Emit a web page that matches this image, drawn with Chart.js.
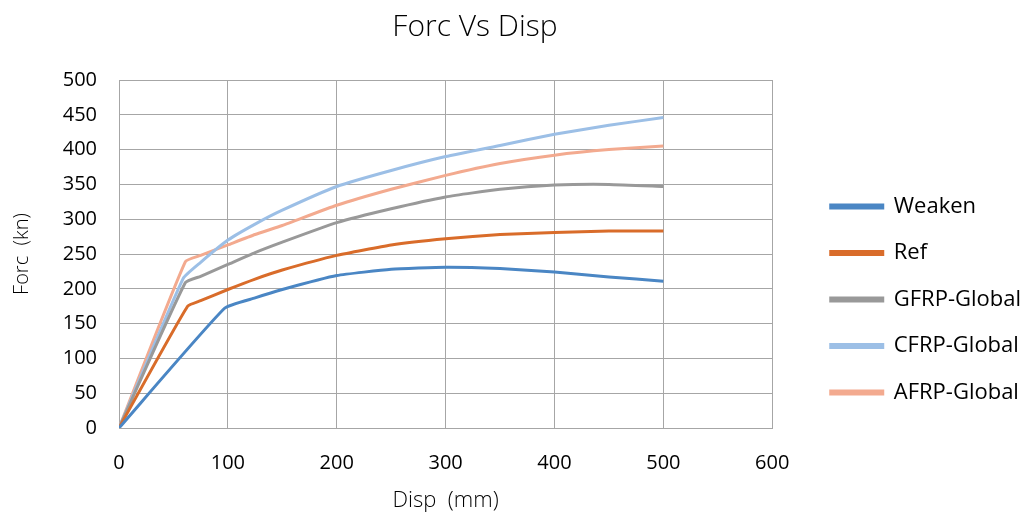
<!DOCTYPE html>
<html>
<head>
<meta charset="utf-8">
<script src="https://cdn.jsdelivr.net/npm/chart.js@4/dist/chart.umd.min.js"></script>
<style>
  html, body { margin: 0; padding: 0; background: #fff; }
  #wrap { width: 1025px; height: 514px; }
</style>
</head>
<body>
<div id="wrap"><canvas id="canvas"></canvas></div>
<script>
'use strict';

// Disp (mm) positions
const dispWeaken = [0, 97, 125, 150, 200, 250, 300, 350, 400, 450, 500];
const forcWeaken = [0, 172, 187, 199, 219, 228, 231, 229, 224, 217, 211];

const dispRef = [0, 63, 75, 100, 125, 150, 200, 250, 300, 350, 400, 450, 500];
const forcRef = [0, 175, 183, 199, 214, 227, 248, 263, 272, 278, 281, 283, 283];

const dispGfrp = [0, 61, 75, 100, 125, 150, 200, 250, 300, 350, 400, 450, 500];
const forcGfrp = [0, 209, 218, 235, 252, 267, 295, 315, 332, 343, 349, 350, 347];

const dispCfrp = [0, 59, 75, 100, 125, 150, 200, 250, 300, 350, 400, 450, 500];
const forcCfrp = [0, 215, 238, 270, 293, 313, 347, 370, 390, 406, 422, 435, 446];

const dispAfrp = [0, 61, 75, 100, 125, 150, 200, 250, 300, 350, 400, 450, 500];
const forcAfrp = [0, 239, 248, 263, 278, 291, 320, 343, 363, 380, 392, 400, 405];

const seriesNames = ['Weaken', 'Ref', 'GFRP-Global', 'CFRP-Global', 'AFRP-Global'];
const seriesColors = ['#4a86c4', '#d96c2a', '#999999', '#9cbfe6', '#f3aa8f'];

const xTicks = [0, 100, 200, 300, 400, 500, 600];
const yTicks = [0, 50, 100, 150, 200, 250, 300, 350, 400, 450, 500];

const FONT = '"Open Sans", Lato, sans-serif';

function pts(xs, ys) {
    return xs.map((x, i) => ({ x: x, y: ys[i] }));
}

const allData = [
    pts(dispWeaken, forcWeaken),
    pts(dispRef, forcRef),
    pts(dispGfrp, forcGfrp),
    pts(dispCfrp, forcCfrp),
    pts(dispAfrp, forcAfrp)
];

const datasets = seriesNames.map((name, i) => ({
    label: name,
    data: allData[i],
    borderColor: seriesColors[i],
    backgroundColor: seriesColors[i],
    borderWidth: 3,
    pointRadius: 0,
    tension: 0.15,
    fill: false
}));

// title drawn centred above the plot like the original
const titlePlugin = {
    id: 'chartTitle',
    afterDraw(chart) {
        const ctx = chart.ctx;
        ctx.save();
        ctx.font = '300 30px ' + FONT;
        ctx.fillStyle = '#000';
        ctx.textAlign = 'center';
        ctx.textBaseline = 'middle';
        ctx.fillText('Forc Vs Disp', 475, 27);
        ctx.restore();
    }
};

const ctx = document.getElementById('canvas').getContext('2d');

new Chart(ctx, {
    type: 'line',
    data: { datasets: datasets },
    plugins: [titlePlugin],
    options: {
        responsive: true,
        maintainAspectRatio: false,
        animation: false,
        layout: { padding: { top: 80, right: -6, bottom: 0, left: 0 } },
        plugins: {
            legend: {
                position: 'right',
                align: 'end',
                fullSize: false,
                maxWidth: 260,
                labels: {
                    color: '#000',
                    font: { family: FONT, size: 22 },
                    boxWidth: 52,
                    boxHeight: 3,
                    padding: 24.5
                }
            },
            tooltip: { enabled: false }
        },
        scales: {
            x: {
                type: 'linear',
                min: 0,
                max: 600,
                afterBuildTicks: s => { s.ticks = xTicks.map(v => ({ value: v })); },
                afterFit: s => { s.height = 86; },
                ticks: {
                    color: '#000',
                    font: { family: FONT, size: 20 },
                    padding: 23,
                    maxRotation: 0
                },
                grid: { color: '#a6a6a6', lineWidth: 1, drawTicks: false },
                border: { color: '#a6a6a6' },
                title: {
                    display: true,
                    text: 'Disp  (mm)',
                    color: '#000',
                    font: { family: FONT, size: 22, weight: 300 },
                    padding: { top: 0, bottom: 0 }
                }
            },
            y: {
                type: 'linear',
                min: 0,
                max: 500,
                afterBuildTicks: s => { s.ticks = yTicks.map(v => ({ value: v })); },
                afterFit: s => { s.width = 119; },
                ticks: {
                    color: '#000',
                    font: { family: FONT, size: 20 },
                    padding: 22
                },
                grid: { color: '#a6a6a6', lineWidth: 1, drawTicks: false },
                border: { color: '#a6a6a6' },
                title: {
                    display: true,
                    text: 'Forc  (kn)',
                    color: '#000',
                    font: { family: FONT, size: 20, weight: 300 },
                    padding: { top: 10, bottom: 0 }
                }
            },
            gap: {
                type: 'linear',
                position: 'right',
                display: true,
                afterFit: s => { s.width = 34; },
                ticks: { display: false },
                grid: { display: false, drawTicks: false },
                border: { display: false }
            }
        }
    }
});
</script>
</body>
</html>
